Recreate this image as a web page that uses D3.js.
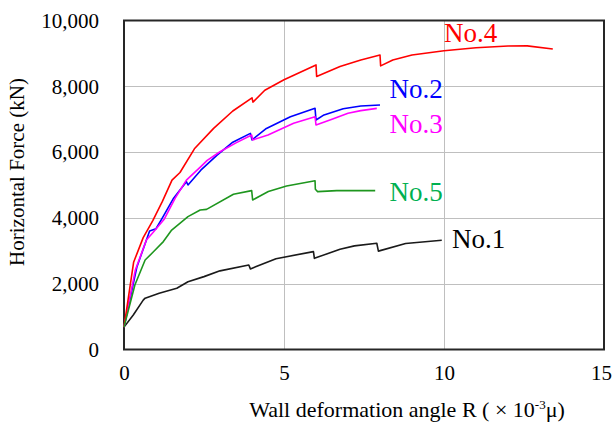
<!DOCTYPE html>
<html><head><meta charset="utf-8">
<script src="https://cdn.jsdelivr.net/npm/d3@7"></script>
<style>body{margin:0;background:#fff}svg{display:block}text{font-family:"Liberation Serif","Times New Roman",serif}</style>
</head><body><svg id="c" width="613" height="422"></svg>
<script>
const xTicks = [0, 5, 10, 15];
const yTicks = [0, 2000, 4000, 6000, 8000, 10000];
const seriesNames = ["No.1", "No.2", "No.3", "No.4", "No.5"];
const no1 = [[0,680],[0.29,1050],[0.6,1500],[0.66,1560],[1.1,1710],[1.65,1860],[2.0,2060],[2.5,2215],[3.0,2390],[3.9,2570],[3.95,2450],[4.75,2760],[5.92,2975],[5.95,2770],[6.75,3050],[7.2,3150],[7.9,3230],[7.95,2990],[8.8,3220],[9.93,3320]];
const no2 = [[0,680],[0.4,2500],[0.8,3600],[1.0,3670],[1.2,4000],[1.55,4600],[1.95,5100],[2.0,5000],[2.4,5450],[2.9,5900],[3.4,6300],[3.95,6570],[4.0,6370],[4.45,6720],[5.2,7075],[5.97,7330],[6.0,6975],[6.25,7130],[6.85,7320],[7.4,7400],[8.0,7430]];
const no3 = [[0,680],[0.35,2400],[0.7,3330],[0.9,3550],[1.25,3950],[1.6,4600],[1.95,5150],[2.4,5560],[2.6,5750],[3.0,6010],[3.5,6280],[3.99,6520],[4.02,6370],[4.5,6520],[5.3,6875],[5.97,7075],[6.0,6825],[6.5,7000],[7.0,7180],[7.4,7260],[7.9,7330]];
const no4 = [[0,680],[0.3,2650],[0.6,3400],[0.9,3920],[1.2,4500],[1.5,5150],[1.75,5380],[2.2,6100],[2.8,6720],[3.4,7250],[4.0,7650],[4.03,7520],[4.4,7880],[5.0,8200],[6.0,8650],[6.02,8300],[6.75,8600],[7.4,8800],[8.0,8950],[8.02,8620],[8.4,8800],[9.0,8950],[10.0,9080],[11.0,9170],[12.0,9225],[12.6,9230],[13.4,9135]];
const no5 = [[0,680],[0.34,1960],[0.66,2720],[0.92,2970],[1.23,3280],[1.49,3630],[2.0,4040],[2.38,4240],[2.58,4260],[3.42,4720],[3.99,4830],[4.02,4545],[4.25,4665],[4.51,4800],[5.08,4970],[5.97,5130],[5.98,4870],[6.05,4800],[6.65,4830],[7.85,4830]];
const seriesData = [no1, no2, no3, no4, no5];
const lineColors = ["#1a1a1a", "#0000ff", "#ff00ff", "#ff0000", "#1e961e"];
const labelColors = ["#000000", "#0000ff", "#ff00ff", "#ff0000", "#00b050"];

const svg = d3.select("#c");
const L = 124, R = 604, T = 20.5, B = 349.5;
const x = d3.scaleLinear().domain([0, 15]).range([L, R]);
const y = d3.scaleLinear().domain([0, 10000]).range([B, T]);

// grid
svg.append("g").selectAll("line").data(xTicks.slice(1, -1)).join("line")
  .attr("x1", d => Math.round(x(d)) + 0.5).attr("x2", d => Math.round(x(d)) + 0.5)
  .attr("y1", T).attr("y2", B).attr("stroke", "#bfbfbf").attr("stroke-width", 1);
svg.append("g").selectAll("line").data(yTicks.slice(1, -1)).join("line")
  .attr("y1", d => Math.round(y(d)) + 0.5).attr("y2", d => Math.round(y(d)) + 0.5)
  .attr("x1", L).attr("x2", R).attr("stroke", "#bfbfbf").attr("stroke-width", 1);

// axes (labels only)
const yAxis = d3.axisLeft(y).tickValues(yTicks).tickSize(0).tickPadding(25).tickFormat(d3.format(","));
const gy = svg.append("g").attr("transform", `translate(${L},0)`).call(yAxis);
gy.select(".domain").remove();
gy.selectAll("text").attr("font-size", 21).attr("fill", "#000");
const xAxis = d3.axisBottom(x).tickValues(xTicks).tickSize(0).tickPadding(16);
const gx = svg.append("g").attr("transform", `translate(0,${B})`).call(xAxis);
gx.select(".domain").remove();
gx.selectAll("text").attr("font-size", 21).attr("fill", "#000")
  .attr("dx", d => d === 15 ? -3 : 0);

// border
svg.append("rect").attr("x", L).attr("y", T).attr("width", R - L).attr("height", B - T)
  .attr("fill", "none").attr("stroke", "#262626").attr("stroke-width", 2);

// lines
const line = d3.line().x(d => x(d[0])).y(d => y(d[1]));
svg.append("g").selectAll("path").data(seriesData).join("path")
  .attr("d", line).attr("fill", "none")
  .attr("stroke", (d, i) => lineColors[i]).attr("stroke-width", 1.6).attr("stroke-linejoin", "round");

// series labels
const labelPos = [[10.25, 3085], [8.3, 7640], [8.3, 6580], [10.0, 9360], [8.3, 4500]];
svg.append("g").selectAll("text").data(seriesNames).join("text")
  .attr("x", (d, i) => x(labelPos[i][0])).attr("y", (d, i) => y(labelPos[i][1]))
  .attr("font-size", 27).attr("fill", (d, i) => labelColors[i]).text(d => d);

// axis titles
svg.append("text").attr("transform", "translate(24,172) rotate(-90)")
  .attr("text-anchor", "middle").attr("font-size", 21).text("Horizontal Force (kN)");
const xt = svg.append("text").attr("x", 407).attr("y", 417).attr("text-anchor", "middle").attr("font-size", 22);
xt.append("tspan").text("Wall deformation angle R ( \u00d7 10");
xt.append("tspan").attr("font-size", 13).attr("dy", -8).text("-3");
xt.append("tspan").attr("dy", 8).text("\u03bc)");
</script></body></html>
